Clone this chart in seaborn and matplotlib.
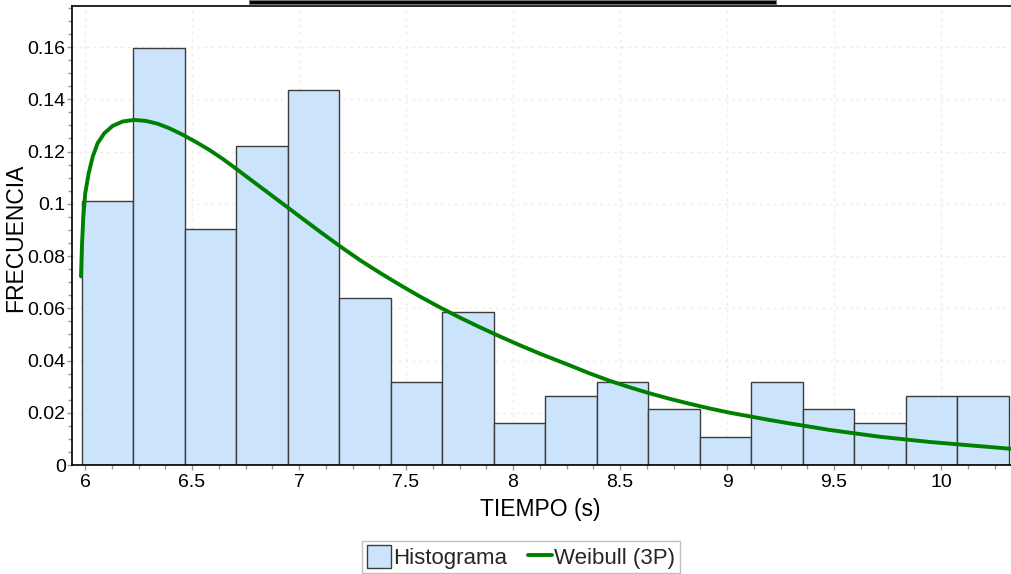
import matplotlib

matplotlib.use("Agg")

import matplotlib.pyplot as plt
import numpy as np
import pandas as pd
import seaborn as sns
from matplotlib.lines import Line2D
from matplotlib.patches import Patch, Rectangle
from matplotlib.ticker import MultipleLocator

# ------------------------------------------------------------
# data
# ------------------------------------------------------------
bin_start = 5.985
bin_width = 0.2407
frecuencia = [0.1011, 0.1596, 0.0904, 0.1223, 0.1436, 0.0638, 0.0319, 0.0585, 0.0160,
              0.0266, 0.0319, 0.0213, 0.0106, 0.0319, 0.0213, 0.0160, 0.0266, 0.0266]

weibull_x = [5.981, 5.986, 5.992, 6.001, 6.017, 6.036, 6.059, 6.090, 6.129, 6.176, 6.230,
             6.285, 6.340, 6.394, 6.457, 6.519, 6.581, 6.643, 6.693, 6.818, 6.911, 7.005,
             7.098, 7.192, 7.285, 7.379, 7.472, 7.565, 7.659, 7.752, 7.846, 7.939, 8.033,
             8.126, 8.266, 8.360, 8.453, 8.547, 8.640, 8.734, 8.827, 8.921, 9.014, 9.107,
             9.201, 9.294, 9.481, 9.715, 9.949, 10.182, 10.327]
weibull_y = [0.0722, 0.0850, 0.0951, 0.1041, 0.1117, 0.1181, 0.1232, 0.1270, 0.1298, 0.1315,
             0.1321, 0.1317, 0.1306, 0.1289, 0.1264, 0.1236, 0.1206, 0.1172, 0.1142, 0.1065,
             0.1008, 0.0950, 0.0893, 0.0837, 0.0784, 0.0735, 0.0689, 0.0645, 0.0603, 0.0564,
             0.0527, 0.0492, 0.0458, 0.0426, 0.0381, 0.0350, 0.0322, 0.0297, 0.0274, 0.0253,
             0.0234, 0.0216, 0.0200, 0.0186, 0.0172, 0.0159, 0.0134, 0.0108, 0.0088, 0.0072,
             0.0062]

BAR_COLOR = "#cce4fb"
LINE_COLOR = "#008000"

n_bins = len(frecuencia)
centros = bin_start + bin_width * (np.arange(n_bins) + 0.5)
hist_df = pd.DataFrame({"centro": centros, "frecuencia": frecuencia})
curve_df = pd.DataFrame({"x": weibull_x, "y": weibull_y})

sns.set_theme(style="white")
plt.rcParams["font.family"] = ["Liberation Sans", "DejaVu Sans"]

fig = plt.figure(figsize=(10.12, 5.74), dpi=100)
ax = fig.add_axes([72 / 1012, 1 - 465 / 574, (1011 - 72) / 1012, (465 - 6) / 574])

sns.histplot(data=hist_df, x="centro", weights="frecuencia",
             binwidth=bin_width, binrange=(bin_start, bin_start + n_bins * bin_width),
             stat="count", color=BAR_COLOR, edgecolor="#3c3c3c", linewidth=1.0,
             alpha=1.0, ax=ax, zorder=2)
sns.lineplot(data=curve_df, x="x", y="y", color=LINE_COLOR, linewidth=2.8, ax=ax, zorder=3)

ax.set_xlim(5.939, 10.327)
ax.set_ylim(0, 0.1757)

ax.xaxis.set_major_locator(MultipleLocator(0.5))
ax.xaxis.set_minor_locator(MultipleLocator(0.125))
ax.yaxis.set_major_locator(MultipleLocator(0.02))
ax.yaxis.set_minor_locator(MultipleLocator(0.005))
ax.xaxis.set_major_formatter(lambda v, p: f"{v:g}")
ax.yaxis.set_major_formatter(lambda v, p: f"{v:g}")

ax.grid(True, which="major", linestyle=(0, (2, 3)), color="#efeedd", linewidth=1.0, zorder=0)
ax.set_axisbelow(True)

ax.tick_params(axis="both", which="major", direction="out", length=3.5, width=1,
               color="#999999", labelsize=14, labelcolor="black", pad=3,
               bottom=True, left=True)
ax.tick_params(axis="y", which="major", pad=1)
ax.tick_params(axis="both", which="minor", direction="out", length=3, width=1,
               color="#999999", bottom=True, left=True)

for side in ["left", "bottom", "top"]:
    ax.spines[side].set_color("black")
    ax.spines[side].set_linewidth(1.2)
ax.spines["right"].set_visible(False)

ax.set_xlabel("TIEMPO (s)", fontsize=16.5, color="black")
ax.set_ylabel("FRECUENCIA", fontsize=16.5, color="black")
ax.xaxis.set_label_coords((540 - 72) / 939, -(498 - 465) / 459)
ax.yaxis.set_label_coords(-(72 - 27) / 939, (465 - 238) / 459)

handles = [Patch(facecolor=BAR_COLOR, edgecolor="#3c3c3c", linewidth=1.0),
           Line2D([0], [0], color=LINE_COLOR, linewidth=2.8)]
leg = fig.legend(handles, ["Histograma", "Weibull (3P)"], loc="center",
                 bbox_to_anchor=(521 / 1012, 1 - 557 / 574), ncol=2, fontsize=16,
                 frameon=True, fancybox=False, framealpha=1, edgecolor="#c0c0c0",
                 handlelength=1.1, handleheight=1.2, handletextpad=0.1,
                 columnspacing=0.9, borderpad=0.2, borderaxespad=0)
leg.get_frame().set_linewidth(1.0)

# dark strip cut off at the top of the figure
fig.patches.append(Rectangle((249 / 1012, 1 - 3.5 / 574), (776 - 249) / 1012, 3.5 / 574,
                             transform=fig.transFigure, facecolor="black",
                             edgecolor="#777777", linewidth=0.8))

fig.savefig("out.png", dpi=100)
plt.close(fig)
